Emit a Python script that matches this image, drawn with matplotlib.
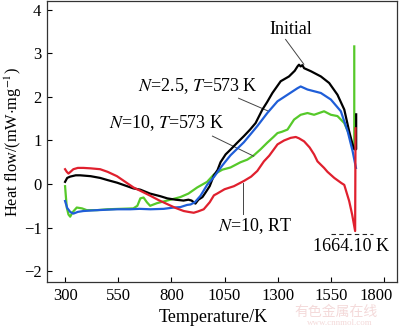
import matplotlib
matplotlib.use("Agg")
import matplotlib.pyplot as plt
import matplotlib.transforms as mtransforms

plt.rcParams['font.family'] = ['Liberation Serif', 'DejaVu Serif']
plt.rcParams['mathtext.fontset'] = 'stix'

# DSC heat flow traces (temperature in K, heat flow in mW/mg)
t_init = [300, 310, 324, 350, 371, 420, 465, 500, 545, 580, 621, 654, 700, 748, 781, 820,
          857, 880, 895, 913, 927, 946, 960, 980, 1000, 1017, 1031, 1055, 1078, 1110, 1141,
          1170, 1196, 1228, 1250, 1275, 1314, 1353, 1380, 1393, 1400, 1408, 1416, 1424, 1456,
          1503, 1542, 1581, 1613, 1636, 1652, 1660, 1669, 1669]
q_init = [0.05, 0.14, 0.17, 0.2, 0.2, 0.18, 0.14, 0.09, 0.03, -0.03, -0.1, -0.13, -0.22, -0.28,
          -0.33, -0.36, -0.38, -0.36, -0.38, -0.45, -0.36, -0.3, -0.2, -0.05, 0.2, 0.32, 0.5,
          0.68, 0.79, 0.95, 1.10, 1.25, 1.40, 1.71, 1.88, 2.09, 2.36, 2.47, 2.6, 2.70, 2.74,
          2.70, 2.73, 2.66, 2.59, 2.47, 2.32, 2.05, 1.71, 1.21, 0.91, 0.8, 0.8, 1.6]

t_n25 = [300, 310, 324, 339, 360, 386, 450, 544, 607, 650, 701, 764, 811, 842, 874, 890, 910,
         937, 968, 1000, 1040, 1078, 1141, 1204, 1251, 1299, 1346, 1393, 1408, 1440, 1503,
         1550, 1597, 1629, 1652, 1668]
q_n25 = [-0.39, -0.55, -0.64, -0.68, -0.64, -0.62, -0.6, -0.58, -0.58, -0.57, -0.58, -0.57,
         -0.54, -0.53, -0.48, -0.47, -0.42, -0.27, -0.02, 0.16, 0.43, 0.66, 0.96, 1.33, 1.63,
         1.90, 2.05, 2.20, 2.24, 2.17, 2.09, 1.94, 1.67, 1.21, 0.76, 0.37]

t_n10 = [300, 304, 308, 316, 324, 335, 355, 380, 402, 450, 500, 560, 621, 640, 654, 669, 685,
         700, 732, 780, 842, 880, 921, 968, 1000, 1040, 1078, 1125, 1157, 1188, 1220, 1251,
         1280, 1299, 1320, 1346, 1377, 1408, 1440, 1471, 1518, 1550, 1581, 1613, 1636, 1652,
         1660, 1660]
q_n10 = [-0.05, -0.3, -0.54, -0.7, -0.75, -0.65, -0.54, -0.56, -0.6, -0.6, -0.58, -0.57,
         -0.56, -0.5, -0.33, -0.31, -0.42, -0.5, -0.44, -0.38, -0.3, -0.22, -0.08, 0.05, 0.22,
         0.33, 0.38, 0.5, 0.56, 0.66, 0.8, 0.95, 1.08, 1.17, 1.2, 1.25, 1.48, 1.59, 1.63, 1.59,
         1.67, 1.59, 1.56, 1.40, 1.14, 0.88, 0.8, 3.16]

t_rt = [300, 308, 316, 330, 339, 360, 386, 420, 465, 500, 544, 580, 622, 660, 701, 740, 780,
        820, 858, 880, 905, 925, 952, 980, 1000, 1015, 1050, 1094, 1141, 1175, 1204, 1235,
        1260, 1299, 1330, 1361, 1385, 1400, 1424, 1450, 1471, 1487, 1518, 1534, 1566, 1600,
        1613, 1636, 1650, 1664.1, 1666]
q_rt = [0.34, 0.28, 0.24, 0.3, 0.34, 0.37, 0.37, 0.36, 0.34, 0.28, 0.18, 0.06, -0.08, -0.17,
        -0.27, -0.37, -0.46, -0.55, -0.62, -0.64, -0.66, -0.63, -0.58, -0.42, -0.26, -0.22,
        -0.12, -0.05, 0.07, 0.17, 0.30, 0.52, 0.65, 0.91, 1.0, 1.06, 1.08, 1.05, 0.98, 0.84,
        0.68, 0.52, 0.37, 0.28, 0.14, 0.02, -0.02, -0.39, -0.7, -1.08, 1.28]

t_peak = 1664.10
xticks = [300, 550, 800, 1050, 1300, 1550, 1800]
yticks = [-2, -1, 0, 1, 2, 3, 4]

fig = plt.figure(figsize=(4.0, 3.27), dpi=100)
ax = fig.add_axes([0.1175, 0.1376, 0.875, 0.859])

ax.plot(t_init, q_init, color='black', lw=1.6, zorder=3)
ax.plot(t_n25, q_n25, color='#1f5ed8', lw=1.6, zorder=4)
ax.plot(t_n10, q_n10, color='#56c92a', lw=1.6, zorder=2)
ax.plot(t_rt, q_rt, color='#e0202e', lw=1.6, zorder=5)

fs = 13
ax.text(1361, 3.55, 'Initial', fontsize=fs, ha='center', va='center')
ax.plot([1337, 1423], [3.32, 2.75], color='#444444', lw=0.7)
ax.text(923, 2.24, r'$N$=2.5, $T$=573 K', fontsize=fs, ha='center', va='center')
ax.plot([1116, 1258], [1.97, 1.67], color='#444444', lw=0.7)
ax.text(776, 1.40, r'$N$=10, $T$=573 K', fontsize=fs, ha='center', va='center')
ax.plot([993, 1187], [1.10, 0.64], color='#444444', lw=0.7)
ax.text(1196, -0.96, r'$N$=10, RT', fontsize=fs, ha='center', va='center')
ax.plot([1135, 1135], [0.02, -0.69], color='#444444', lw=0.7)
ax.plot([1550, 1748], [-1.14, -1.14], color='#222222', lw=0.8, ls=(0, (4, 3)))
ax.text(1644, -1.44, '%.2f K' % t_peak, fontsize=fs, ha='center', va='center')

ax.set_xlim(215, 1861)
ax.set_ylim(-2.25, 4.2)
ax.set_xticks(xticks)
ax.set_yticks(yticks)
ax.tick_params(direction='in', length=3.5, width=0.8, labelsize=12, pad=4)
for s in ax.spines.values():
    s.set_color('#333333')
    s.set_linewidth(0.9)

# pull the last x tick label in from the right edge
last = ax.get_xticklabels()[-1]
last.set_transform(last.get_transform() +
                   mtransforms.ScaledTranslation(-6 / 72, 0, fig.dpi_scale_trans))

ax.set_xlabel('Temperature/K', fontsize=13, labelpad=3)
ax.xaxis.set_label_coords(0.474, -0.095)
ax.set_ylabel(r'Heat flow/(mW$\cdot$mg$^{-1}$)', fontsize=11.8, labelpad=0)

# site watermark
fig.text(0.84, 0.046, '有色金属在线', fontsize=10, color='#f4dada',
         family=['Noto Sans CJK SC', 'DejaVu Sans'], ha='center', va='center', zorder=0)
fig.text(0.85, 0.012, 'www.cnnmol.com', fontsize=6.5, color='#f4dada',
         ha='center', va='center', zorder=0)

fig.savefig('out.png', dpi=100)
